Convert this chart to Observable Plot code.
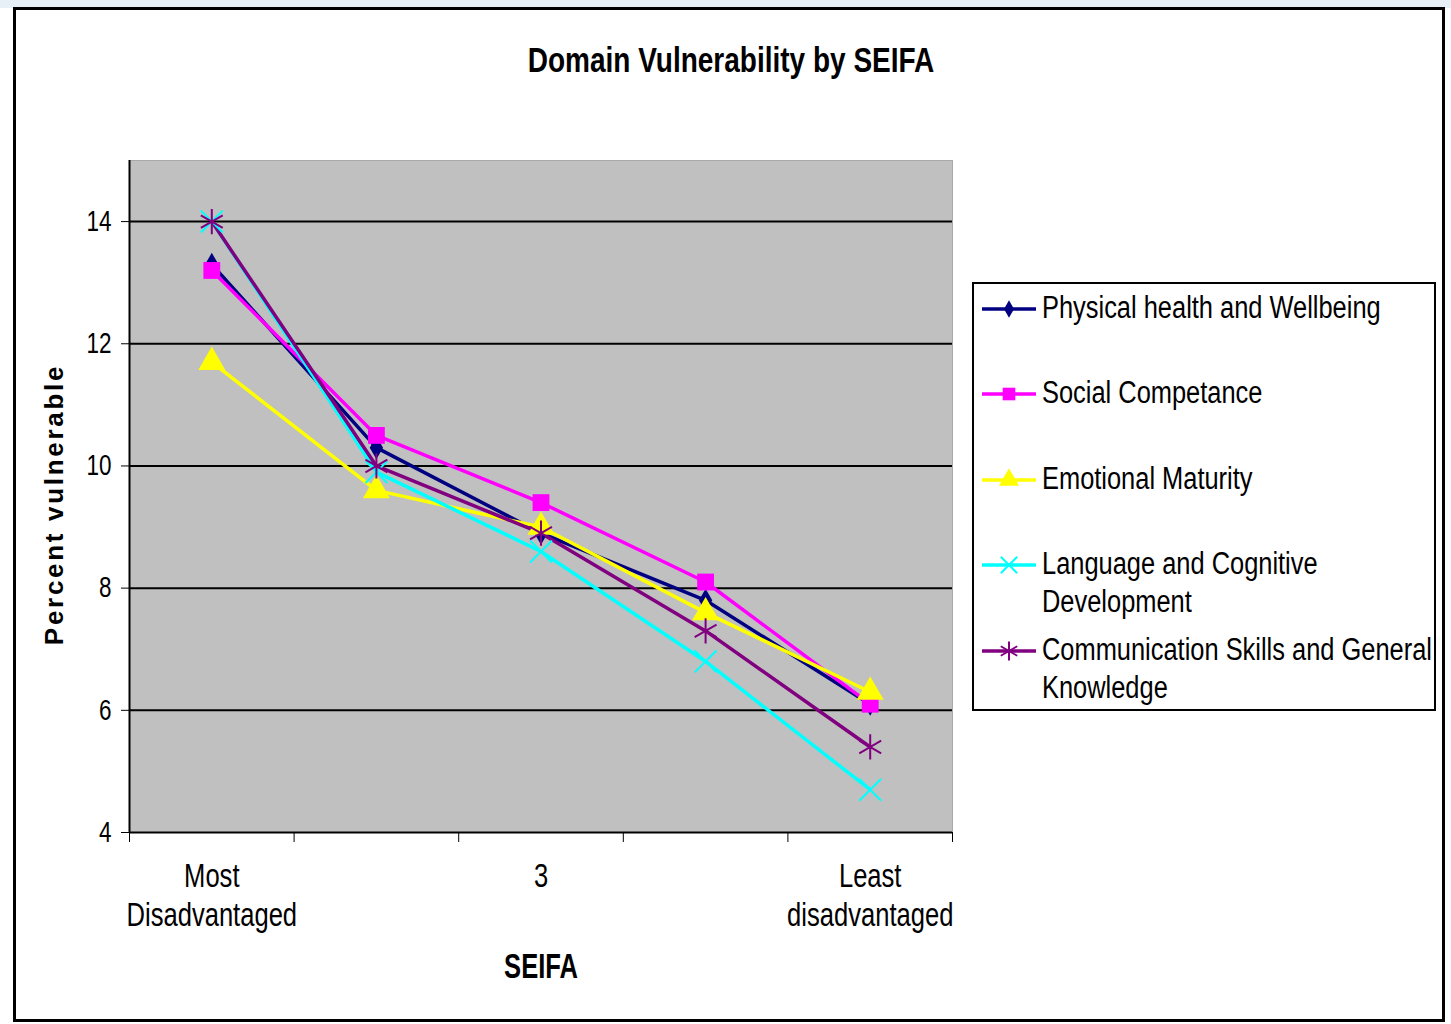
<!DOCTYPE html>
<html><head><meta charset="utf-8">
<script src="https://cdn.jsdelivr.net/npm/d3@7"></script>
<script src="https://cdn.jsdelivr.net/npm/@observablehq/plot@0.6"></script>
<style>
body{margin:0;background:#fff;}
#page{position:relative;width:1451px;height:1024px;overflow:hidden;font-family:"Liberation Sans",Arial,sans-serif;color:#000;}
#topband{position:absolute;left:0;top:0;width:1451px;height:8px;background:#E8F0F7;}
#frame{position:absolute;left:13px;top:7px;width:1432px;height:1015px;border:3px solid #000;box-sizing:border-box;}
#title{position:absolute;left:231px;width:1000px;top:40px;text-align:center;font-weight:bold;font-size:35px;line-height:40px;transform:scaleX(0.8);transform-origin:500px 0;}
#chart{position:absolute;left:0;top:100px;}
#legend{position:absolute;left:972px;top:282px;width:464px;height:429px;border:2px solid #000;box-sizing:border-box;background:#fff;}
.item{position:absolute;left:0;width:460px;}
.item svg{position:absolute;left:7px;}
.item div{position:absolute;left:68px;font-size:31px;line-height:38px;white-space:nowrap;transform:scaleX(0.82);transform-origin:0 0;}
</style></head>
<body>
<div id="page">
<div id="topband"></div>
<div id="frame"></div>
<div id="title">Domain Vulnerability by SEIFA</div>
<div id="chart"></div>
<div id="legend"></div>
</div>
<script>
const categories = ["Most Disadvantaged", "2", "3", "4", "Least disadvantaged"];
const tickLabels = ["Most\nDisadvantaged", "", "3", "", "Least\ndisadvantaged"];
const seriesNames = ["Physical health and Wellbeing", "Social Competance", "Emotional Maturity", "Language and Cognitive\nDevelopment", "Communication Skills and General\nKnowledge"];
const physical = [13.3, 10.3, 8.9, 7.8, 6.1];
const social = [13.2, 10.5, 9.4, 8.1, 6.1];
const emotional = [11.7, 9.6, 9.0, 7.6, 6.3];
const language = [14.0, 9.9, 8.6, 6.8, 4.7];
const communication = [14.0, 10.0, 8.9, 7.3, 5.4];
const yTicks = [4, 6, 8, 10, 12, 14];
const gridValues = [6, 8, 10, 12, 14];

const colors = ["#000080", "#FF00FF", "#FFFF00", "#00FFFF", "#800080"];
const symbols = ["diamond", "square", "triangle", "times", "asterisk"];
const radii = [7, 9.5, 10, 10, 12];
const filled = [true, true, true, false, false];
const allValues = [physical, social, emotional, language, communication];

const rows = allValues.map((vals, s) => vals.map((v, i) => ({series: seriesNames[s], pos: i + 1, cat: categories[i], value: v})));

const boundaries = d3.range(0.5, 5.6, 1);

const marks = [
  Plot.frame({fill: "#C0C0C0", stroke: "#A8A8A8"}),
  Plot.ruleY(gridValues, {stroke: "#000", strokeWidth: 2}),
  Plot.ruleY([4], {stroke: "#000", strokeWidth: 2}),
  Plot.ruleX([0.5], {stroke: "#000", strokeWidth: 2}),
  Plot.axisY({ticks: yTicks, tickSize: 8, tickPadding: 10, fontSize: 29, label: null, tickFormat: d => d}),
  Plot.axisX({ticks: boundaries, tickSize: 10, tickFormat: () => "", label: null}),
  Plot.axisX({ticks: [1, 2, 3, 4, 5], tickSize: 0, tickPadding: 26, fontSize: 33, lineHeight: 1.2, label: null, tickFormat: d => tickLabels[d - 1]}),
  Plot.text(["SEIFA"], {frameAnchor: "bottom", dy: 145, fontSize: 35, fontWeight: "bold"}),
  Plot.text(["Percent vulnerable"], {frameAnchor: "left", textAnchor: "middle", rotate: -90, dx: -75, dy: 8, fontSize: 26, fontWeight: "bold"})
];
rows.forEach((r, s) => {
  marks.push(Plot.line(r, {x: "pos", y: "value", stroke: colors[s], strokeWidth: 3.5}));
});
rows.forEach((r, s) => {
  marks.push(Plot.dot(r, filled[s]
    ? {x: "pos", y: "value", symbol: () => symbols[s], r: radii[s], fill: colors[s], stroke: "none"}
    : {x: "pos", y: "value", symbol: () => symbols[s], r: radii[s], fill: "none", stroke: colors[s], strokeWidth: 2}));
});

const chart = Plot.plot({
  width: 1000,
  height: 882,
  marginLeft: 129,
  marginRight: 48,
  marginTop: 60,
  marginBottom: 150,
  style: {fontFamily: '"Liberation Sans",Arial,sans-serif', background: "transparent", color: "#000", overflow: "visible"},
  x: {type: "linear", domain: [0.5, 5.5]},
  y: {domain: [4, 15]},
  symbol: {type: "identity"},
  marks
});
// narrow the text horizontally (reference uses a condensed face)
d3.select(chart).selectAll("text").each(function() {
  const txt = this.textContent;
  if (txt === "Percent vulnerable") {
    this.style.letterSpacing = "2.7px";
    return;
  }
  const k = txt === "SEIFA" ? 0.73 : 0.775;
  const t = this.getAttribute("transform") || "";
  this.setAttribute("transform", t + ` scale(${k},1)`);
});
document.getElementById("chart").appendChild(chart);

// legend
const legend = d3.select("#legend");
const itemTops = [25, 110, 196, 281, 367];
seriesNames.forEach((name, s) => {
  const item = legend.append("div").attr("class", "item").style("top", (itemTops[s] - 20) + "px");
  const svg = item.append("svg").attr("width", 56).attr("height", 40).style("top", "0px");
  svg.append("line").attr("x1", 1).attr("x2", 55).attr("y1", 20).attr("y2", 20).attr("stroke", colors[s]).attr("stroke-width", 3.5);
  const sym = {diamond: d3.symbolDiamond, square: d3.symbolSquare, triangle: d3.symbolTriangle, times: d3.symbolTimes, asterisk: d3.symbolAsterisk}[symbols[s]];
  const size = Math.PI * Math.pow(radii[s] * 0.75, 2);
  svg.append("path").attr("d", d3.symbol(sym, size)()).attr("transform", "translate(28,20)")
    .attr("fill", filled[s] ? colors[s] : "none").attr("stroke", filled[s] ? "none" : colors[s]).attr("stroke-width", 2);
  item.append("div").style("top", "0px").html(name.replace("\n", "<br>"));
});
</script>
</body></html>
